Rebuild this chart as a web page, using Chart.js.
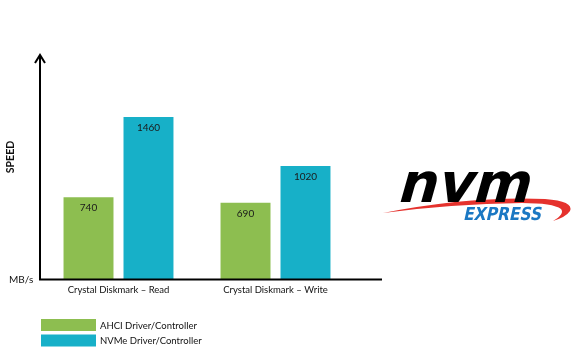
<!DOCTYPE html>
<html>
<head>
<meta charset="utf-8">
<script src="https://cdn.jsdelivr.net/npm/chart.js@4/dist/chart.umd.min.js"></script>
<style>
  html, body { margin: 0; padding: 0; background: #ffffff; }
  #wrap { width: 584px; height: 356px; position: relative; }
</style>
</head>
<body>
<div id="wrap"><canvas id="c" width="584" height="356"></canvas></div>
<script>
const categories = ['Crystal Diskmark – Read', 'Crystal Diskmark – Write'];
const seriesNames = ['AHCI Driver/Controller', 'NVMe Driver/Controller'];
const ahciValues = [740, 690];
const nvmeValues = [1460, 1020];
const seriesColors = ['#8DBE50', '#17B0C8'];
const yAxisTitle = 'SPEED';
const yAxisUnit = 'MB/s';

const FONT = 'Lato, "Open Sans", sans-serif';

const decorPlugin = {
  id: 'decor',
  afterDatasetsDraw(chart) {
    const ctx = chart.ctx;
    const a = chart.chartArea;
    ctx.save();
    // value labels inside bars
    ctx.fillStyle = '#1a1a1a';
    ctx.font = '10px ' + FONT;
    ctx.textAlign = 'center';
    ctx.textBaseline = 'middle';
    chart.data.datasets.forEach((ds, i) => {
      const meta = chart.getDatasetMeta(i);
      meta.data.forEach((bar, j) => {
        ctx.fillText(String(ds.data[j]), bar.x, bar.y + 11);
      });
    });
    // axes
    ctx.strokeStyle = '#000';
    ctx.lineWidth = 2;
    ctx.beginPath();
    ctx.moveTo(a.left, a.bottom);
    ctx.lineTo(a.left, a.top - 2);
    ctx.moveTo(a.left - 1, a.bottom);
    ctx.lineTo(a.right + 28, a.bottom);
    ctx.stroke();
    ctx.beginPath();
    ctx.moveTo(a.left - 5, a.top + 6);
    ctx.lineTo(a.left, a.top - 2);
    ctx.lineTo(a.left + 5, a.top + 6);
    ctx.stroke();
    // axis title and unit
    ctx.fillStyle = '#111';
    ctx.font = 'bold 10.5px ' + FONT;
    ctx.save();
    ctx.translate(11, 157);
    ctx.rotate(-Math.PI / 2);
    ctx.textAlign = 'center';
    ctx.textBaseline = 'middle';
    ctx.fillText(yAxisTitle, 0, 0);
    ctx.restore();
    ctx.font = '10px ' + FONT;
    ctx.textAlign = 'left';
    ctx.textBaseline = 'middle';
    ctx.fillText(yAxisUnit, 9, 280);
    // legend
    chart.data.datasets.forEach((ds, i) => {
      const y = 319 + i * 15.5;
      ctx.fillStyle = ds.backgroundColor;
      ctx.fillRect(41, y, 55, 12);
      ctx.fillStyle = '#111';
      ctx.font = '9.5px ' + FONT;
      ctx.fillText(ds.label, 100, y + 6.5);
    });
    // logo: red swoosh
    ctx.save();
    ctx.fillStyle = '#E5322D';
    ctx.beginPath();
    ctx.moveTo(383, 213);
    ctx.quadraticCurveTo(470, 196, 545, 199);
    ctx.quadraticCurveTo(574, 201, 570, 211);
    ctx.quadraticCurveTo(566, 217, 553, 221);
    ctx.quadraticCurveTo(565, 214, 561, 209);
    ctx.quadraticCurveTo(553, 203, 522, 203);
    ctx.quadraticCurveTo(450, 204, 383, 213);
    ctx.closePath();
    ctx.fill();
    ctx.restore();
    // nvm
    ctx.save();
    ctx.fillStyle = '#000';
    ctx.font = 'bold 55px "DejaVu Sans", sans-serif';
    ctx.textAlign = 'left';
    ctx.textBaseline = 'alphabetic';
    ctx.translate(396, 202);
    ctx.transform(1, 0, -0.28, 1, 0, 0);
    ctx.fillText('nvm', 0, 0);
    ctx.restore();
    // EXPRESS
    ctx.save();
    ctx.fillStyle = '#1B78C3';
    ctx.font = 'bold 18px "DejaVu Sans", sans-serif';
    ctx.textAlign = 'left';
    ctx.textBaseline = 'alphabetic';
    ctx.translate(463, 220);
    ctx.transform(0.86, 0, -0.22, 1, 0, 0);
    ctx.fillText('EXPRESS', 0, 0);
    ctx.restore();
    ctx.restore();
  }
};

new Chart(document.getElementById('c'), {
  type: 'bar',
  data: {
    labels: categories,
    datasets: [
      { label: seriesNames[0], data: ahciValues, backgroundColor: seriesColors[0] },
      { label: seriesNames[1], data: nvmeValues, backgroundColor: seriesColors[1] }
    ]
  },
  options: {
    responsive: false,
    animation: false,
    devicePixelRatio: 1,
    layout: { padding: { left: 40, right: 230, top: 57, bottom: 55 } },
    datasets: { bar: { categoryPercentage: 0.764, barPercentage: 0.833 } },
    plugins: { legend: { display: false }, tooltip: { enabled: false } },
    scales: {
      x: {
        grid: { display: false, drawTicks: false },
        border: { display: false },
        ticks: { color: '#111', font: { family: FONT, size: 9.5 }, padding: 5, maxRotation: 0 }
      },
      y: {
        display: false,
        min: 0,
        max: 2000
      }
    }
  },
  plugins: [decorPlugin]
});
</script>
</body>
</html>
